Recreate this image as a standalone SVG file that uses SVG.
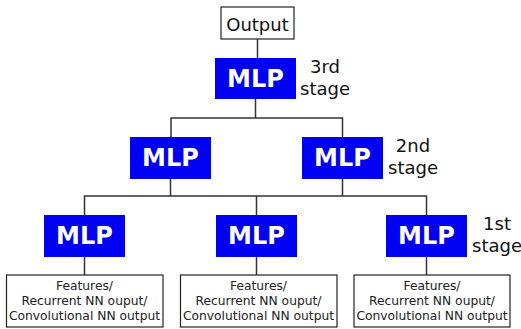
<svg xmlns="http://www.w3.org/2000/svg" width="521" height="329" viewBox="0 0 521 329">
<style>
.mlp{fill:#0000f2}
.mt{font-family:"DejaVu Sans",sans-serif;font-weight:bold;font-size:24px;fill:#fff;text-anchor:middle}
.box{fill:#fff;stroke:#222;stroke-width:1.2}
.ft{font-family:"DejaVu Sans",sans-serif;font-size:12.3px;fill:#222;text-anchor:middle}
.st{font-family:"DejaVu Sans",sans-serif;font-size:18px;fill:#111;text-anchor:middle}
.c{fill:none;stroke:#333;stroke-width:1.5}
</style>
<rect width="521" height="329" fill="#fff"/>
<g id="connectors">
<path class="c" d="M257.5,39V58"/>
<path class="c" d="M255.5,99V118M171,137V118H342.5V137"/>
<path class="c" d="M170.5,179V196M342.5,179V196M84.5,215V196H426.5V215M256.5,196V215"/>
<path class="c" d="M84.5,257V275M256.5,257V275M426.5,257V275"/>
</g>
<g id="output">
<rect class="box" x="221" y="7" width="73" height="32"/>
<text class="st" x="257.5" y="31">Output</text>
</g>
<g id="mlp3">
<rect class="mlp" x="215" y="58" width="81" height="41"/>
<text class="mt" x="255.5" y="87">MLP</text>
</g>
<g id="mlp2l">
<rect class="mlp" x="130" y="137" width="81" height="42"/>
<text class="mt" x="170.5" y="166">MLP</text>
</g>
<g id="mlp2r">
<rect class="mlp" x="302" y="137" width="81" height="42"/>
<text class="mt" x="342.5" y="166">MLP</text>
</g>
<g id="mlp1l">
<rect class="mlp" x="44" y="215" width="81" height="42"/>
<text class="mt" x="84.5" y="244">MLP</text>
</g>
<g id="mlp1m">
<rect class="mlp" x="216" y="215" width="81" height="42"/>
<text class="mt" x="256.5" y="244">MLP</text>
</g>
<g id="mlp1r">
<rect class="mlp" x="386" y="215" width="81" height="42"/>
<text class="mt" x="426.5" y="244">MLP</text>
</g>
<g id="feat1">
<rect class="box" x="6.5" y="275" width="156.5" height="52"/>
<text class="ft" x="84.5" y="290">Features/</text>
<text class="ft" x="84.5" y="305">Recurrent NN ouput/</text>
<text class="ft" x="84.5" y="320">Convolutional NN output</text>
</g>
<g id="feat2">
<rect class="box" x="180.5" y="275" width="156.5" height="52"/>
<text class="ft" x="258.5" y="290">Features/</text>
<text class="ft" x="258.5" y="305">Recurrent NN ouput/</text>
<text class="ft" x="258.5" y="320">Convolutional NN output</text>
</g>
<g id="feat3">
<rect class="box" x="354" y="275" width="156" height="52"/>
<text class="ft" x="432" y="290">Features/</text>
<text class="ft" x="432" y="305">Recurrent NN ouput/</text>
<text class="ft" x="432" y="320">Convolutional NN output</text>
</g>
<g id="stage3">
<text class="st" x="325" y="73">3rd</text>
<text class="st" x="325" y="95">stage</text>
</g>
<g id="stage2">
<text class="st" x="413" y="152">2nd</text>
<text class="st" x="413" y="174">stage</text>
</g>
<g id="stage1">
<text class="st" x="497" y="230">1st</text>
<text class="st" x="497" y="252">stage</text>
</g>
</svg>
